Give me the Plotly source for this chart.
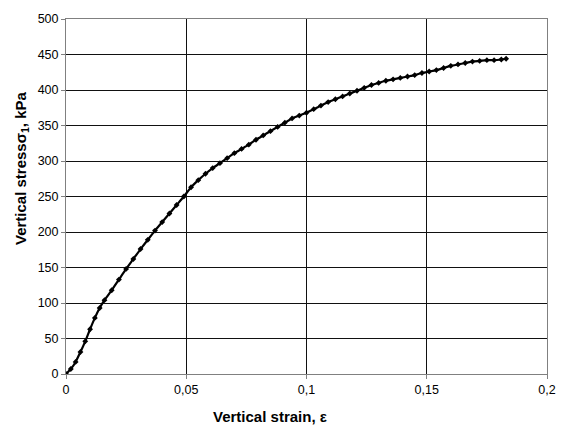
import plotly.graph_objects as go

strain = [0, 0.002, 0.004, 0.006, 0.008, 0.010, 0.012, 0.014, 0.016, 0.019,
          0.022, 0.025, 0.028, 0.031, 0.034, 0.037, 0.040, 0.043, 0.046, 0.049,
          0.052, 0.055, 0.058, 0.061, 0.064, 0.067, 0.070, 0.073, 0.076, 0.079,
          0.082, 0.085, 0.088, 0.091, 0.094, 0.097, 0.100, 0.103, 0.106, 0.109,
          0.112, 0.115, 0.118, 0.121, 0.124, 0.127, 0.130, 0.133, 0.136, 0.139,
          0.142, 0.145, 0.148, 0.151, 0.154, 0.157, 0.160, 0.163, 0.166, 0.169,
          0.172, 0.175, 0.178, 0.181, 0.183]
stress = [0, 7, 17, 31, 46, 63, 79, 93, 104, 118,
          133, 148, 162, 176, 189, 202, 214, 226, 238, 250,
          263, 273, 282, 290, 297, 304, 311, 317, 323, 330,
          336, 342, 348, 354, 360, 364, 368, 373, 378, 383,
          387, 391, 395, 399, 403, 407, 410, 413, 415, 417,
          419, 421, 424, 426, 428, 431, 434, 436, 438, 440,
          441, 442, 442, 443, 444]

x_title = "Vertical strain, ε"
y_title = "Vertical stressσ<sub>1</sub>, kPa"

fig = go.Figure()
fig.add_trace(go.Scatter(
    x=strain, y=stress, mode="lines+markers",
    line=dict(color="black", width=2.2, shape="spline", smoothing=0.6),
    marker=dict(symbol="diamond", size=4.5, color="black"),
    showlegend=False,
))

axis_common = dict(
    showgrid=True, gridcolor="#111111", gridwidth=1,
    showline=True, linecolor="#808080", linewidth=1, mirror=True,
    ticks="outside", ticklen=4, tickcolor="#808080",
    zeroline=False,
    tickfont=dict(family="Liberation Sans, Arial", size=12.5, color="black"),
)

fig.update_xaxes(range=[0, 0.2], dtick=0.05, tick0=0, **axis_common)
fig.update_yaxes(range=[0, 500], dtick=50, tick0=0, **axis_common)

fig.add_annotation(text="<b>" + x_title + "</b>", xref="paper", yref="paper",
                   x=(270 - 65.5) / (548 - 65.5), y=-(418 - 374.5) / 360,
                   showarrow=False, xanchor="center", yanchor="middle",
                   font=dict(family="Liberation Sans, Arial", size=15, color="black"))
fig.add_annotation(text="<b>" + y_title + "</b>", xref="paper", yref="paper",
                   x=-(65.5 - 21) / (548 - 65.5), y=(374.5 - 166) / 360,
                   showarrow=False, xanchor="center", yanchor="middle",
                   textangle=-90,
                   font=dict(family="Liberation Sans, Arial", size=15, color="black"))

fig.update_layout(
    width=568, height=430,
    margin=dict(l=65.5, r=19.5, t=14.5, b=55.5),
    paper_bgcolor="white", plot_bgcolor="white",
    separators=", ",
    font=dict(family="Liberation Sans, Arial", color="black"),
)

fig.write_html("out.html")
